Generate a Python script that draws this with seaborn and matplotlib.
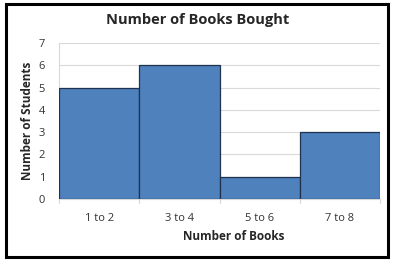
import matplotlib
matplotlib.use("Agg")
import matplotlib.pyplot as plt
import seaborn as sns
import pandas as pd
from matplotlib.patches import Rectangle

categories = ["1 to 2", "3 to 4", "5 to 6", "7 to 8"]
students = [5, 6, 1, 3]
yticks = [0, 1, 2, 3, 4, 5, 6, 7]

sns.set_style("white")
plt.rcParams['font.family'] = ['Open Sans', 'DejaVu Sans']

df = pd.DataFrame({"books": categories, "students": students})

fig = plt.figure(figsize=(3.93, 2.60), dpi=100)
ax = fig.add_axes([59/393, 1 - 199/260, (380-59)/393, (199-43)/260])

sns.barplot(data=df, x="books", y="students", ax=ax, width=1.0,
            color="#4F81BD", saturation=1, edgecolor="#1F3350", linewidth=0.9, zorder=3)

ax.set_xlim(-0.5, 3.5)
ax.set_ylim(0, 7)
ax.set_yticks(yticks)
ax.set_yticklabels([str(v) for v in yticks], fontsize=8, color="#333333")
ax.tick_params(axis='y', length=0, pad=10)
ax.tick_params(axis='x', length=0, pad=10, labelsize=8, labelcolor="#333333")
ax.grid(axis='y', color="#D9D9D9", linewidth=0.8, zorder=0)
for s in ["top", "right"]:
    ax.spines[s].set_visible(False)
ax.spines["left"].set_color("#D9D9D9")
ax.spines["bottom"].set_color("#D9D9D9")
ax.spines["left"].set_linewidth(0.8)
ax.spines["bottom"].set_linewidth(0.8)
# small boundary ticks under x axis
for b in [-0.5, 0.5, 1.5, 2.5, 3.5]:
    ax.plot([b, b], [0, -0.18], color="#D9D9D9", lw=0.8, clip_on=False, zorder=1)

ax.set_xlabel("Number of Books", fontsize=8.5, fontweight="bold")
ax.xaxis.set_label_coords((234 - 59) / (380 - 59), -(230 - 199) / (199 - 43))
ax.set_ylabel("Number of Students", fontsize=8.5, fontweight="bold")
ax.yaxis.set_label_coords(-(59 - 34) / (380 - 59), 0.5)
fig.text(198 / 393, 1 - 20/260, "Number of Books Bought",
         ha="center", va="center", fontsize=10.5, fontweight="bold")

fig.patches.append(Rectangle((6/393, 3/260), (388-6)/393, (256-3)/260,
                             transform=fig.transFigure, fill=False,
                             edgecolor="black", linewidth=2.2))

fig.savefig("out.png", dpi=100)
